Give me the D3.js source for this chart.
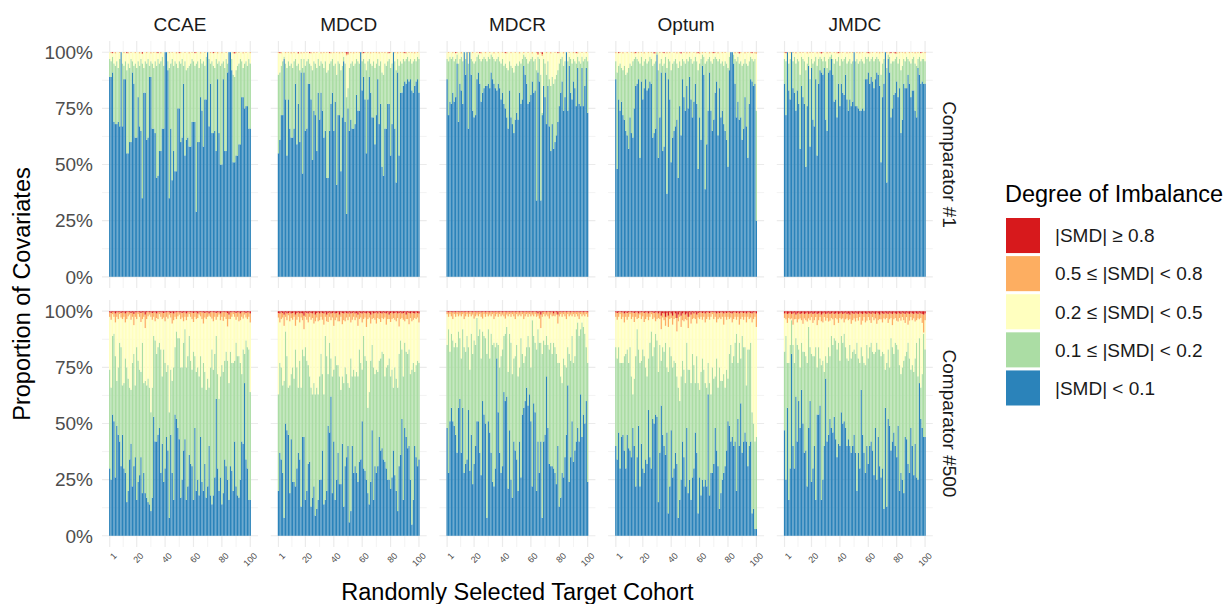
<!DOCTYPE html>
<html>
<head>
<meta charset="utf-8">
<script src="https://cdn.jsdelivr.net/npm/d3@7"></script>
<style>
  body { margin: 0; background: #fff; }
  text { font-family: "Liberation Sans", Arial, sans-serif; }
</style>
</head>
<body>
<div id="chart"></div>
<script>
const sources = ["CCAE", "MDCD", "MDCR", "Optum", "JMDC"];
const comparators = ["Comparator #1", "Comparator #500"];
const levels = ["lt01", "lt02", "lt05", "lt08", "ge08"];
const levelLabels = ["|SMD| < 0.1", "0.1 \u2264 |SMD| < 0.2", "0.2 \u2264 |SMD| < 0.5", "0.5 \u2264 |SMD| < 0.8", "|SMD| \u2265 0.8"];
const levelColors = ["#2b83ba", "#abdda4", "#ffffbf", "#fdae61", "#d7191c"];
const cohortTicks = [1, 20, 40, 60, 80, 100];
const cohortMinor = [10.5, 30, 50, 70, 90];
const yTicks = [0, 0.25, 0.5, 0.75, 1];
const yMinor = [0.125, 0.375, 0.625, 0.875];

// blue = % |SMD|<0.1, green = cumulative top of 0.1-0.2, orange / red = shares (%)
const ccae1Blue = [89,89,91,69,68,68,69,67,100,67, 88,88,55,55,60,60,91,86,62,62, 80,67,65,35,82,82,61,62,89,89, 66,66,64,44,45,56,56,66,66,100, 100,92,35,66,43,56,47,47,75,75, 60,62,86,54,61,62,58,58,69,69, 69,29,60,60,80,74,58,79,79,100, 67,86,64,64,65,56,88,64,50,50, 88,56,56,91,100,100,92,51,51,54, 54,59,59,80,80,75,76,76,66,66];
const ccae1Green = [97,96,98,95,94,96,93,97,100,95, 94,96,92,95,93,97,96,94,95,93, 96,94,97,95,93,96,95,97,94,96, 95,93,96,94,97,95,96,98,94,100, 100,96,93,95,97,94,96,95,93,96, 95,97,94,96,92,93,94,95,97,96, 94,95,96,93,97,95,96,94,98,100, 97,95,96,94,93,97,95,96,94,95, 96,93,97,95,100,100,97,90,89,92, 94,95,97,96,93,95,96,94,97,95];
const ccae1Orange = [0,0.4,0,0,0.5,0,0,0.3,0,0, 0.4,0,0,0.5,0,0.3,0,0,0.4,0, 0,0.5,0,0.3,0,0,0.4,0,0,0.5, 0,0.3,0,0.4,0,0,0.5,0,0,0, 0,0,0.4,0,0.3,0,0,0.5,0,0, 0.4,0,0,0.3,0,0,0.5,0,0.3,0, 0,0.4,0,0,0.5,0,0,0.3,0,0, 0,0.4,0,0,0.3,0,0.5,0,0,0.4, 0,0,0.3,0,0,0,0,0.5,0,0.4, 0,0.3,0,0,0.5,0,0.3,0,0,0.4];
const ccae1Red = [0,0,0.4,0,0,0,0,0,0,0, 0,0,0.4,0,0,0,0,0,0,0, 0,0,0,0.5,0,0,0,0,0,0, 0,0,0,0,0.4,0,0,0,0,0, 0,0,0,0,0,0,0,0,0,0.4, 0,0,0,0,0,0,0,0,0,0, 0.4,0,0,0,0,0,0,0,0,0, 0,0,0,0.4,0,0,0,0,0,0, 0,0,0,0,0,0,0,0,0.5,0, 0,0,0,0,0,0,0,0,0,0];

const mdcd1Blue = [55,61,72,72,97,79,54,79,66,62, 62,66,86,59,77,60,91,46,91,65, 66,86,86,79,52,74,72,56,82,70, 82,74,62,65,44,44,65,77,82,65, 78,41,72,72,47,71,96,69,28,75, 65,70,66,66,68,81,74,74,100,83, 89,79,55,79,89,82,71,71,59,72, 88,68,77,49,45,66,66,77,77,54, 68,100,66,42,91,54,82,82,85,87, 86,88,87,88,83,82,85,87,88,82];
const mdcd1Green = [90,91,94,96,98,95,93,96,94,95, 93,96,97,94,95,92,97,93,97,94, 96,97,95,94,92,96,95,93,97,94, 96,95,93,96,91,92,95,96,97,94, 95,90,96,95,92,94,98,95,80,84, 93,95,96,94,95,97,96,95,100,96, 97,95,92,96,97,95,94,96,93,95, 97,94,96,91,90,95,94,96,97,93, 95,100,96,92,97,94,96,95,97,96, 97,98,96,97,95,96,97,96,98,97];
const mdcd1Orange = [0.3,0,0.5,0,0,0.4,0,0.3,0,0.5, 0,0.4,0,0,0.3,0,0.5,0,0.4,0, 0.3,0,0,0.5,0,0.4,0,0.3,0,0, 0.5,0,0.4,0,0.3,0,0,0.5,0,0.4, 0,0.3,0,0.5,0,0.4,0,0.3,0.8,0.6, 0,0.4,0,0.5,0,0.3,0,0.4,0,0.5, 0,0.3,0,0.4,0,0.5,0,0.3,0,0.4, 0,0.5,0,0.3,0,0.4,0,0.5,0,0.3, 0,0,0.4,0,0.5,0,0.3,0,0.4,0, 0.5,0,0.3,0,0.4,0,0.5,0,0.3,0];
const mdcd1Red = [0,0.4,0,0,0,0,0,0,0,0, 0,0,0,0,0.4,0,0,0,0,0, 0,0,0.4,0,0,0,0,0,0,0, 0,0,0,0,0,0,0.4,0,0,0, 0,0,0,0,0,0,0,0,0.6,0.5, 0,0,0,0,0,0,0,0,0,0, 0.4,0,0,0,0,0,0,0,0,0, 0,0,0,0,0,0,0,0,0.4,0, 0,0,0,0,0,0,0,0,0,0.4, 0,0,0,0,0,0,0,0,0,0];

const mdcr1Blue = [88,72,78,77,82,78,80, 95,69,86,83,77,100,90, 100,66,100,90,74,71,72, 88,91,86,78,82,84,85, 85,86,84,91,88,86,84, 83,86,84,79,82,77,75, 71,66,83,71,68,64,70, 73,70,82,77,79,94,90, 86,77,78,81,87,82,83, 34,91,87,34,72,85,80, 68,85,67,56,68,57,60, 63,69,76,82,87,74,80, 100,74,94,82,79,87,84, 76,93,77,76,93,76,85, 93,73];
const mdcr1Green = [97,96,98,97,98,96,97, 99,95,97,98,96,100,97, 100,95,100,97,96,95,96, 98,99,97,96,97,98,97, 96,98,97,99,98,97,96, 97,98,96,95,97,94,95, 93,92,96,94,93,91,94, 95,94,96,95,97,99,98, 97,95,96,97,98,96,97, 92,98,97,90,73,97,95, 90,96,88,85,89,86,88, 90,92,95,97,98,94,96, 100,96,98,97,95,97,96, 95,98,96,95,98,96,97, 98,96];
const mdcr1Orange = [0,0.3,0,0,0.4,0,0,0.3,0,0, 0.5,0,0,0,0,0.3,0,0,0.4,0, 0,0.3,0,0,0.5,0,0,0.4,0,0, 0.3,0,0,0.5,0,0,0.4,0,0,0.3, 0,0,0.5,0,0,0.4,0,0,0.3,0, 0,0.5,0,0,0.4,0,0,0.3,0,0, 0.5,0,0,0.4,0.6,0,0.3,0.8,0,0, 0.4,0,0,0.5,0,0,0.3,0,0,0.4, 0,0,0.5,0,0,0,0.3,0,0,0.4, 0,0,0.5,0,0,0.3,0,0,0.4,0];
const mdcr1Red = [0,0,0,0,0,0,0.4,0,0,0, 0,0,0,0,0,0,0,0,0,0, 0,0,0,0.4,0,0,0,0,0,0, 0,0,0,0,0,0,0,0,0,0, 0,0.4,0,0,0,0,0,0,0,0, 0,0,0,0,0,0,0,0,0,0, 0,0,0,0,0.6,0,0,0.8,0,0, 0,0,0,0,0,0,0,0,0.4,0, 0,0,0,0,0,0,0,0,0,0, 0,0.4,0,0,0,0,0,0,0,0];

const optum1Blue = [88,48,79,74,78,72,70, 65,63,57,71,64,62,75, 85,86,88,53,87,79,84, 88,83,84,87,86,62,64, 66,99,53,71,91,56,58, 91,37,88,79,51,62,65, 67,70,44,76,63,88,80, 74,85,75,89,79,71,78, 86,77,48,71,61,94,90, 39,59,74,91,74,65,70, 82,87,63,84,71,74,68, 65,61,49,92,100,100,95, 86,71,78,70,71,61,66, 80,67,53,77,88,87,85, 86,25];
const optum1Green = [96,91,94,95,93,92,94, 90,91,93,95,94,96,97, 98,97,96,95,98,94,96, 97,95,96,98,97,94,95, 96,100,92,95,97,94,95, 98,93,97,96,92,95,96, 97,95,93,96,94,97,96, 95,97,96,98,97,95,96, 98,96,92,95,97,99,98, 95,96,97,98,96,95,97, 98,97,96,97,95,96,94, 96,95,93,98,100,100,99, 97,96,98,95,96,94,95, 97,95,94,96,98,97,96, 97,74];
const optum1Orange = [0.4,0,0,0.3,0,0.5,0,0,0.4,0, 0,0.3,0,0.5,0,0,0.4,0,0.3,0, 0.5,0,0,0.4,0,0.3,0,0,0.5,0, 0,0.4,0,0.3,0,0,0.5,0,0.4,0, 0,0.3,0,0.5,0,0.4,0,0,0.3,0, 0.5,0,0.4,0,0,0.3,0,0.5,0,0.6, 0,0.4,0,0.3,0,0,0.5,0,0.4,0, 0.3,0,0.5,0,0,0.4,0,0.3,0,0, 0,0,0,0,0.5,0,0.3,0,0.4,0, 0,0.5,0,0.3,0,0.4,0,0,0.5,0.6];
const optum1Red = [0,0,0.4,0,0,0,0,0,0,0, 0,0,0,0,0.4,0,0,0,0,0, 0,0,0,0,0,0,0,0.5,0,0, 0,0,0,0,0.4,0,0,0,0,0, 0,0,0,0,0,0,0.5,0,0,0, 0,0,0,0,0,0,0,0,0.4,0, 0,0,0,0,0,0,0,0,0,0.4, 0,0,0,0,0,0,0,0,0,0, 0,0,0,0,0,0,0,0.5,0,0, 0,0,0,0,0,0,0.4,0,0,0];

const jmdc1Blue = [86,72,100,83,79,100,84, 82,74,83,77,57,85,80, 77,49,76,94,58,93,70, 67,88,54,86,92,91,90, 93,70,65,91,92,97,90, 78,79,71,86,76,86,82, 81,90,79,74,79,76,78, 100,76,76,75,74,74,75, 74,88,88,91,86,89,87, 84,88,91,90,85,51,80, 86,100,42,97,91,71,75, 81,82,87,80,84,64,70, 86,84,84,90,86,80,83, 83,74,71,93,90,86,87, 86,86];
const jmdc1Green = [97,96,100,95,97,100,96, 98,95,97,96,90,98,97, 96,92,95,98,88,97,95, 96,98,94,97,98,97,96, 98,96,93,97,98,99,97, 95,97,96,98,94,97,96, 97,98,95,96,97,95,96, 100,96,97,95,96,97,96, 95,98,97,98,96,97,98, 96,97,98,97,96,90,95, 97,100,93,99,98,95,96, 96,97,98,95,97,92,94, 97,96,98,97,96,95,97, 98,95,94,97,98,96,97, 97,96];
const jmdc1Orange = [0.3,0,0,0,0.4,0,0.3,0,0.5,0, 0,0.4,0,0.3,0,0,0.5,0,0.4,0, 0.3,0,0,0.5,0,0.4,0,0.3,0,0, 0.5,0,0.4,0,0,0.3,0,0.5,0,0.4, 0,0.3,0,0,0.5,0,0.4,0,0.3,0, 0,0.4,0,0.5,0,0.3,0,0,0.4,0, 0.5,0,0.3,0,0,0.4,0,0.5,0,0.3, 0,0,0.4,0,0.5,0,0,0.3,0,0.6, 0,0.4,0,0.3,0,0.5,0,0,0.4,0, 0.3,0,0.5,0,0.4,0,0,0.3,0,0.4];
const jmdc1Red = [0,0.4,0,0,0,0,0,0,0,0, 0,0,0,0,0,0,0,0,0,0, 0,0,0,0,0,0,0.5,0,0,0, 0,0,0,0,0,0,0,0,0.4,0, 0,0,0,0,0,0,0,0,0,0, 0,0,0,0,0,0,0,0,0,0.4, 0,0,0,0,0,0,0,0,0,0, 0,0,0,0,0,0.4,0,0,0.5,0, 0,0,0,0,0,0,0,0,0,0, 0,0,0,0,0,0,0.4,0,0,0];

const ccae2Blue = [30,25,54,51,26,49,45, 42,31,45,30,28,15,20, 34,41,22,31,35,16,24, 27,35,19,28,19,17,15, 14,11,17,53,42,42,45, 48,28,41,24,30,44,38, 8,45,28,16,54,52,48, 43,17,25,38,43,16,22, 36,32,31,16,48,20,25, 18,44,24,20,32,17,22, 40,18,14,18,26,61,30, 20,26,14,19,34,31,25, 16,31,29,20,42,22,18, 17,25,42,41,68,34,30, 16,16];
const ccae2Green = [74,66,89,90,80,69,75, 86,84,67,68,79,75,70, 66,65,77,81,67,84,78, 74,73,86,68,69,67,70, 66,55,66,89,87,81,84, 86,83,71,83,77,73,76, 55,74,69,75,84,91,88, 88,75,75,86,92,75,80, 89,78,74,82,80,73,75, 71,80,66,77,73,65,70, 66,75,83,74,81,89,72, 61,71,76,73,78,82,78, 68,82,77,77,78,86,80, 80,77,72,83,81,87,84, 83,64];
const ccae2Orange = [2,3,1,2,4,2,3,1,2,3, 2,4,3,2,1,3,2,5,2,3, 1,2,4,3,2,6,3,2,1,2, 3,2,4,2,3,1,2,3,2,4, 2,3,1,2,5,3,2,3,2,1, 3,2,4,2,3,2,1,2,3,4, 2,3,2,1,2,3,5,2,3,2, 1,2,3,4,2,3,2,1,3,2, 4,2,3,6,2,3,2,1,2,3, 2,4,3,2,3,1,2,3,2,4];
const ccae2Red = [0.5,0.8,0.3,0.5,1,0.5,0.5,0.3,0.8,0.5, 0.5,1,0.5,0.3,0.5,0.8,0.5,1.2,0.5,0.5, 0.3,0.5,0.8,0.5,0.5,1.5,0.5,0.3,0.5,0.5, 0.8,0.5,0.5,1,0.5,0.3,0.5,0.5,0.8,0.5, 0.5,0.3,0.5,0.8,0.5,1,0.5,0.5,0.3,0.5, 0.5,0.8,0.5,0.5,1,0.5,0.3,0.5,0.5,0.8, 0.5,0.5,1,0.5,0.3,0.5,0.5,0.8,0.5,0.5, 1,0.5,0.3,0.5,0.5,0.8,0.5,0.5,1,0.5, 0.3,0.5,0.5,0.8,1.5,0.5,0.5,0.3,0.5,0.8, 0.5,0.5,1,0.5,0.3,0.5,0.8,0.5,0.5,1];

const mdcd2Blue = [20,37,34,28,8,50,47, 45,19,43,24,24,22,30, 37,34,13,44,44,16,20, 32,33,13,17,22,9,12, 16,25,25,38,14,16,20, 49,46,62,19,42,16,25, 37,23,23,41,13,31,35, 40,6,11,40,28,31,28, 24,33,34,51,30,29,25, 19,14,24,47,16,31,28, 31,44,38,39,34,33,30, 25,25,21,26,38,27,20, 11,31,36,52,16,48,44, 39,40,25,5,16,40,35, 31,34];
const mdcd2Green = [63,77,75,67,69,91,80, 66,67,72,75,70,83,75, 66,78,66,83,80,84,78, 76,71,66,63,68,63,66, 63,71,81,72,63,89,80, 72,86,79,71,74,80,76, 76,71,65,71,68,75,72, 68,66,79,71,74,71,73, 71,83,77,74,89,80,78, 57,64,78,85,75,72,74, 73,78,79,82,81,71,75, 76,79,71,74,66,75,70, 66,81,87,83,71,86,82, 81,83,72,74,77,73,76, 78,77];
const mdcd2Orange = [2,4,3,2,5,2,3,1,4,2, 3,2,5,3,2,4,2,3,6,2, 3,4,2,3,2,5,3,2,4,3, 2,3,5,2,3,4,2,3,2,6, 3,2,4,3,2,5,3,4,2,3, 2,4,3,2,3,2,5,3,2,4, 3,2,6,3,2,4,3,2,3,5, 2,3,4,2,3,2,5,3,2,4, 3,2,3,4,2,6,3,2,3,4, 2,3,5,2,4,3,2,3,2,4];
const mdcd2Red = [0.8,1,0.5,0.8,1.5,0.5,1,0.8,0.5,1, 0.8,0.5,1.5,0.8,0.5,1,0.8,1,2,0.5, 0.8,1,0.5,0.8,1,0.5,1.5,0.8,0.5,1, 0.5,0.8,1,0.5,1.5,0.8,0.5,1,0.8,0.5, 1,0.8,0.5,1.5,0.5,0.8,1,0.5,0.8,1, 0.5,1,0.8,0.5,1,0.8,1.5,0.5,0.8,1, 0.5,0.8,1,0.5,0.8,1.5,0.5,1,0.8,0.5, 1,0.5,0.8,1,0.5,0.8,1,0.5,1.5,0.8, 0.5,1,0.8,0.5,1,0.8,0.5,1,0.8,0.5, 1.5,0.5,0.8,1,0.5,0.8,1,0.5,0.8,1];

const mdcr2Blue = [48,28,51,57,51,49,45, 37,57,61,37,57,28,32, 34,56,29,45,23,32,40, 51,51,37,27,60,54,50, 8,51,46,37,24,22,30, 79,55,37,28,31,64,60, 62,21,47,25,17,42,38, 34,20,42,26,54,57,60, 66,58,63,51,22,59,55, 20,42,28,42,8,42,45, 71,48,32,31,31,30,28, 23,40,13,17,28,26,35, 45,67,24,35,51,33,38, 42,48,42,63,44,54,50, 60,24];
const mdcr2Green = [85,92,82,90,87,84,86, 84,91,88,79,92,84,82, 89,84,74,90,81,87,85, 97,89,92,79,91,89,88, 81,92,79,90,85,86,84, 86,85,75,80,83,89,90, 93,73,90,86,72,79,80, 85,71,75,88,81,77,80, 84,89,84,75,96,89,86, 83,92,86,86,81,87,85, 89,85,83,86,81,86,84, 81,77,77,71,68,79,76, 75,84,81,78,89,77,80, 92,95,89,92,95,93,90, 84,77];
const mdcr2Orange = [1,2,1,2,3,1,2,1,2,1, 2,1,3,2,1,2,1,2,1,3, 2,1,2,1,2,3,1,2,1,2, 1,2,1,3,2,1,2,1,2,1, 2,3,1,2,1,2,1,2,3,1, 2,1,2,1,3,2,1,2,1,2, 1,2,1,2,1,3,6,2,1,2, 1,2,3,1,2,1,2,1,4,2, 1,2,1,2,3,1,2,1,2,1, 2,1,2,3,1,2,1,2,1,2];
const mdcr2Red = [0.3,0.5,0.3,0.3,0.5,0.3,0.5,0.3,0.3,0.5, 0.3,0.3,0.5,0.3,0.3,0.5,0.3,0.3,0.5,0.3, 0.3,0.5,0.3,0.3,0.5,0.3,0.3,0.5,0.3,0.3, 0.5,0.3,0.3,0.5,0.3,0.3,0.5,0.3,0.3,0.5, 0.3,0.3,0.5,0.3,0.3,0.5,0.3,0.3,0.5,0.3, 0.3,0.5,0.3,0.3,0.5,0.3,0.3,0.5,0.3,0.3, 0.5,0.3,0.3,0.5,1,0.3,1.5,0.5,0.3,0.3, 0.5,0.3,0.3,0.5,0.3,1,0.3,0.5,1.5,0.3, 0.3,0.5,0.3,0.3,0.5,0.3,0.3,0.5,0.3,0.3, 0.5,0.3,0.3,0.5,0.3,0.3,0.5,0.3,0.3,0.5];

const optum2Blue = [40,34,46,30,44,45,38, 30,45,39,38,35,48,40, 22,35,49,22,41,30,28, 34,32,56,35,30,52,50, 54,53,15,37,58,45,40, 36,46,10,22,47,26,30, 37,32,8,16,25,42,35, 22,48,19,25,16,26,30, 46,37,10,26,18,25,22, 25,22,63,18,28,28,32, 48,38,31,12,19,25,28, 31,38,51,49,42,44,40, 42,20,52,40,59,37,42, 46,42,31,40,42,10,12, 3,3];
const optum2Green = [84,79,84,77,77,77,80, 81,83,77,84,71,63,70, 80,92,83,77,78,83,80, 75,71,79,86,91,80,84, 90,87,73,85,78,84,82, 86,75,73,84,80,75,78, 77,71,66,60,71,78,74, 68,86,74,74,68,81,76, 68,80,68,65,73,79,74, 68,66,77,68,63,75,70, 71,79,66,75,69,69,72, 66,74,70,81,85,77,80, 86,90,77,86,79,89,84, 84,67,83,83,86,55,50, 42,44];
const optum2Orange = [2,3,2,1,3,2,4,2,3,2, 1,3,2,4,2,3,2,1,3,2, 4,3,2,3,2,1,3,2,4,3, 2,3,6,2,3,4,2,5,3,2, 4,3,2,6,3,2,5,3,4,2, 3,5,2,4,3,2,3,4,2,3, 2,3,2,4,3,2,3,2,1,3, 2,4,3,2,3,2,5,2,3,2, 3,2,4,3,2,3,2,5,3,2, 3,2,4,2,3,2,4,3,2,6];
const optum2Red = [0.5,0.8,0.5,0.3,0.5,0.5,1,0.5,0.8,0.5, 0.3,0.5,0.5,0.8,0.5,0.5,1,0.5,0.5,0.3, 0.8,0.5,0.5,1,0.5,0.3,0.5,0.8,0.5,0.5, 1,0.5,2,0.8,1,2.5,0.8,2,0.5,1, 2,0.5,1,3,1.5,0.5,2,1,0.5,1.5, 1,2.5,0.5,1.5,0.5,1,0.5,1.5,0.8,0.5, 0.5,0.8,0.5,1,0.5,0.5,0.8,0.5,0.3,0.5, 0.5,1,0.5,0.8,0.5,0.5,1,0.5,0.8,0.5, 0.5,0.8,1,0.5,0.5,0.8,0.5,1,0.5,0.5, 0.8,0.5,1,0.5,0.5,0.8,1,0.5,0.5,1];

const jmdc2Blue = [47,25,57,16,30,81,40, 30,62,42,60,48,65,50, 37,38,22,48,60,24,30, 40,16,54,54,58,16,25, 40,70,42,45,52,48,46, 53,43,35,41,40,55,50, 51,48,40,43,40,37,40, 45,37,20,37,30,65,45, 37,28,40,32,40,42,38, 27,48,25,44,31,26,30, 12,57,13,52,49,38,42, 46,40,35,49,20,28,25, 19,44,43,32,28,48,40, 27,41,26,25,68,52,48, 44,44];
const jmdc2Green = [82,89,77,77,85,96,85, 77,88,85,83,75,86,82, 82,80,77,93,84,81,80, 80,84,75,84,79,76,78, 73,80,77,84,80,89,85, 88,87,83,86,78,89,86, 90,84,79,78,85,79,82, 83,81,86,79,77,84,80, 77,76,85,79,84,86,82, 81,82,86,83,83,80,82, 81,74,77,83,75,88,84, 81,86,85,83,76,72,75, 78,80,82,86,79,74,76, 73,79,86,71,88,66,72, 90,83];
const jmdc2Orange = [2,3,4,2,3,2,5,3,2,4, 3,2,3,5,2,3,4,2,3,2, 4,3,2,5,3,2,3,4,2,3, 2,4,3,2,3,5,2,3,4,2, 3,2,4,3,2,3,2,5,3,2, 4,2,3,2,5,3,2,4,3,2, 3,4,2,3,2,5,3,2,3,4, 2,3,2,4,3,2,5,3,2,3, 4,2,3,2,3,4,2,5,3,2, 3,2,4,3,2,3,2,4,8,3];
const jmdc2Red = [1,0.6,1.2,1,0.6,1.2,1,0.6,1.5,1, 0.6,1.2,1,0.6,1.2,1,0.6,1.2,1,0.6, 1.2,1,0.6,1.2,1,0.6,1.5,1,0.6,1.2, 1,0.6,1.2,1,0.6,1.2,1,0.6,1.2,1, 0.6,1.2,1,0.6,1.2,1,1.5,0.6,1,1.2, 0.6,1,1.2,0.6,1,1.2,0.6,1,1.2,0.6, 1,1.2,0.6,1,1.2,0.6,1,1.5,0.6,1, 1.2,0.6,1,1.2,0.6,1,1.2,0.6,1,1.2, 0.6,1,1.2,0.6,1,1.2,0.6,1,1.2,0.6, 1,1.2,0.6,1,1.2,0.6,1,1.2,1.5,1];

const panels = [
  { source: "CCAE",  comp: 0, blue: ccae1Blue,  green: ccae1Green,  orange: ccae1Orange,  red: ccae1Red },
  { source: "MDCD",  comp: 0, blue: mdcd1Blue,  green: mdcd1Green,  orange: mdcd1Orange,  red: mdcd1Red },
  { source: "MDCR",  comp: 0, blue: mdcr1Blue,  green: mdcr1Green,  orange: mdcr1Orange,  red: mdcr1Red },
  { source: "Optum", comp: 0, blue: optum1Blue, green: optum1Green, orange: optum1Orange, red: optum1Red },
  { source: "JMDC",  comp: 0, blue: jmdc1Blue,  green: jmdc1Green,  orange: jmdc1Orange,  red: jmdc1Red },
  { source: "CCAE",  comp: 1, blue: ccae2Blue,  green: ccae2Green,  orange: ccae2Orange,  red: ccae2Red },
  { source: "MDCD",  comp: 1, blue: mdcd2Blue,  green: mdcd2Green,  orange: mdcd2Orange,  red: mdcd2Red },
  { source: "MDCR",  comp: 1, blue: mdcr2Blue,  green: mdcr2Green,  orange: mdcr2Orange,  red: mdcr2Red },
  { source: "Optum", comp: 1, blue: optum2Blue, green: optum2Green, orange: optum2Orange, red: optum2Red },
  { source: "JMDC",  comp: 1, blue: jmdc2Blue,  green: jmdc2Green,  orange: jmdc2Orange,  red: jmdc2Red }
];

const width = 1226;
const height = 604;
const gridColor = "#ebebeb";
const tickColor = "#4d4d4d";

const svg = d3.select("#chart").append("svg")
  .attr("width", width)
  .attr("height", height);

svg.append("rect").attr("width", width).attr("height", height).attr("fill", "#fff");

// facet layout
const colScale = d3.scaleBand().domain(sources).range([102, 932.8]).paddingInner(0.0753);
const rowScale = d3.scaleBand().domain(comparators).range([41, 547]).paddingInner(0.0463);

const stack = d3.stack().keys(levels);

panels.forEach(p => {
  const left = colScale(p.source);
  const top = rowScale(comparators[p.comp]);
  const pw = colScale.bandwidth();
  const ph = rowScale.bandwidth();

  // ggplot-like 5% expansion on both scales
  const x = d3.scaleLinear().domain([0.55 - 4.995, 100.45 + 4.995]).range([left, left + pw]);
  const y = d3.scaleLinear().domain([-0.05, 1.05]).range([top + ph, top]);

  const rows = p.blue.map((b, i) => {
    const g = p.green[i], o = p.orange[i], r = p.red[i];
    return {
      cohort: i + 1,
      lt01: b / 100,
      lt02: (g - b) / 100,
      lt05: Math.max(0, 100 - g - o - r) / 100,
      lt08: o / 100,
      ge08: r / 100
    };
  });

  const g = svg.append("g");

  // grid
  g.selectAll(".ymin").data(yMinor).join("line")
    .attr("x1", left).attr("x2", left + pw)
    .attr("y1", d => y(d)).attr("y2", d => y(d))
    .attr("stroke", gridColor).attr("stroke-width", 0.6);
  g.selectAll(".xmin").data(cohortMinor).join("line")
    .attr("y1", top).attr("y2", top + ph)
    .attr("x1", d => x(d)).attr("x2", d => x(d))
    .attr("stroke", gridColor).attr("stroke-width", 0.6);
  g.selectAll(".ymaj").data(yTicks).join("line")
    .attr("x1", left).attr("x2", left + pw)
    .attr("y1", d => y(d)).attr("y2", d => y(d))
    .attr("stroke", gridColor).attr("stroke-width", 1.2);
  g.selectAll(".xmaj").data(cohortTicks).join("line")
    .attr("y1", top).attr("y2", top + ph)
    .attr("x1", d => x(d)).attr("x2", d => x(d))
    .attr("stroke", gridColor).attr("stroke-width", 1.2);

  // bars
  const layers = g.selectAll(".layer").data(stack(rows)).join("g")
    .attr("fill", (d, i) => levelColors[i]);

  layers.selectAll("rect").data(d => d).join("rect")
    .attr("x", d => x(d.data.cohort - 0.45))
    .attr("width", d => x(d.data.cohort + 0.45) - x(d.data.cohort - 0.45))
    .attr("y", d => y(Math.min(d[1], 1)))
    .attr("height", d => Math.max(0, y(d[0]) - y(Math.min(d[1], 1))));

  // y tick labels on first column
  if (p.source === sources[0]) {
    g.selectAll(".ylab").data(yTicks).join("text")
      .attr("x", left - 9)
      .attr("y", d => y(d))
      .attr("dy", "0.36em")
      .attr("text-anchor", "end")
      .attr("font-size", 19)
      .attr("fill", tickColor)
      .text(d3.format(".0%"));
  }

  // x tick labels on bottom row
  if (p.comp === 1) {
    g.selectAll(".xlab").data(cohortTicks).join("text")
      .attr("transform", d => `translate(${x(d) + 3},${top + ph + 5}) rotate(-45)`)
      .attr("text-anchor", "end")
      .attr("dy", "0.7em")
      .attr("font-size", 9)
      .attr("fill", tickColor)
      .text(d => d);
  }

  // top strips
  if (p.comp === 0) {
    g.append("text")
      .attr("x", left + pw / 2)
      .attr("y", 31)
      .attr("text-anchor", "middle")
      .attr("font-size", 19)
      .attr("fill", "#1a1a1a")
      .text(p.source);
  }
});

// right strips
comparators.forEach(c => {
  const cy = rowScale(c) + rowScale.bandwidth() / 2;
  svg.append("text")
    .attr("transform", `translate(943,${cy}) rotate(90)`)
    .attr("text-anchor", "middle")
    .attr("font-size", 19)
    .attr("fill", "#1a1a1a")
    .text(c);
});

// axis titles
svg.append("text")
  .attr("transform", `translate(30,${(41 + 547) / 2}) rotate(-90)`)
  .attr("text-anchor", "middle")
  .attr("font-size", 23.5)
  .attr("fill", "#000")
  .text("Proportion of Covariates");

svg.append("text")
  .attr("x", (102 + 932.8) / 2)
  .attr("y", 600)
  .attr("text-anchor", "middle")
  .attr("font-size", 23.5)
  .attr("fill", "#000")
  .text("Randomly Selected Target Cohort");

// legend
const legend = svg.append("g").attr("transform", "translate(1005,0)");
legend.append("text")
  .attr("x", 0).attr("y", 202)
  .attr("font-size", 23.5)
  .attr("fill", "#000")
  .text("Degree of Imbalance");

const legendOrder = levels.map((k, i) => i).reverse();
const keyY = d3.scaleBand().domain(legendOrder).range([218, 405.5]).paddingInner(0.08);

legend.selectAll(".key").data(legendOrder).join("rect")
  .attr("x", 1).attr("y", d => keyY(d))
  .attr("width", 34).attr("height", keyY.bandwidth())
  .attr("fill", d => levelColors[d]);

legend.selectAll(".klab").data(legendOrder).join("text")
  .attr("x", 50)
  .attr("y", d => keyY(d) + keyY.bandwidth() / 2)
  .attr("dy", "0.36em")
  .attr("font-size", 19)
  .attr("fill", "#1a1a1a")
  .text(d => levelLabels[d]);
</script>
</body>
</html>
